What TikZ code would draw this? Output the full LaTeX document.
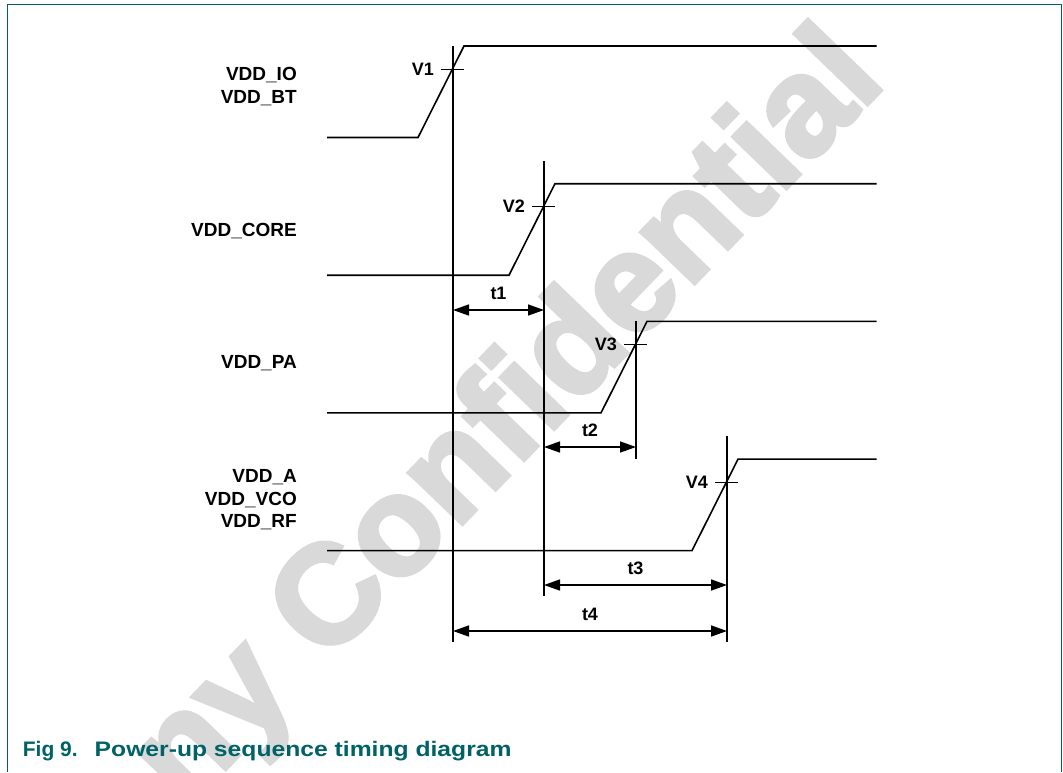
\documentclass[tikz,border=0pt]{standalone}
\usepackage{fontspec}
\setmainfont{Liberation Sans}
\newfontfamily\wmfont[RawFeature={embolden=3}]{Liberation Sans Bold}
\usepackage{graphicx}
\usepackage{xcolor}
\usetikzlibrary{arrows.meta}
\definecolor{frameteal}{RGB}{0,98,102}
\definecolor{wmgray}{RGB}{217,217,217}

\begin{document}
\begin{tikzpicture}[x=1pt,y=-1pt,
    wave/.style={line width=1.6pt},
    vline/.style={line width=1.5pt},
    vtick/.style={line width=1pt},
    dim/.style={line width=1.6pt,{Triangle[length=16pt,width=11pt]}-{Triangle[length=16pt,width=11pt]}},
    rail/.style={font=\fontsize{19}{22.7}\selectfont\bfseries,inner sep=0pt,align=right,anchor=north east},
    small/.style={font=\fontsize{18}{20}\selectfont\bfseries,inner sep=0pt}]
    \useasboundingbox (0,0) rectangle (1063,772);
    \node[rotate=46,anchor=base east,text=wmgray,inner sep=0pt,
          font=\fontsize{140}{140}\wmfont] (wm) at (888,83) {Company Confidential};
    \draw[frameteal,line width=1.5pt] (7.5,772) -- (7.5,4.5) -- (1061.5,4.5) -- (1061.5,772);

    \node[rail] (io) at (297,67) {VDD\_IO\\VDD\_BT};
    \node[rail] (core) at (297,223.3) {VDD\_CORE};
    \node[rail] (pa) at (297,355) {VDD\_PA};
    \node[rail] (ana) at (297,469.3) {VDD\_A\\VDD\_VCO\\VDD\_RF};

    \foreach \i/\vx/\hy in {1/453/46,2/544/183.7,3/636/321.4,4/727/459.1}{
        \coordinate (lo\i) at (327,\hy+91.5);
        \coordinate (up\i) at (\vx-35,\hy+91.5);
        \coordinate (top\i) at (\vx+11,\hy);
        \coordinate (hi\i) at (876.5,\hy);
        \draw[wave] (lo\i) -- (up\i) -- (top\i) -- (hi\i);
        \draw[vtick] (\vx-12,\hy+23) -- (\vx+11,\hy+23);
        \node[small,anchor=east] (v\i) at (\vx-19,\hy+23) {V\i};
    }

    \coordinate (m1t) at (453,46);     \coordinate (m1b) at (453,642);
    \coordinate (m2t) at (544,161);    \coordinate (m2b) at (544,596);
    \coordinate (m3t) at (636,321.4);  \coordinate (m3b) at (636,459);
    \coordinate (m4t) at (727,436);    \coordinate (m4b) at (727,642);
    \draw[vline] (m1t) -- (m1b);
    \draw[vline] (m2t) -- (m2b);
    \draw[vline] (m3t) -- (m3b);
    \draw[vline] (m4t) -- (m4b);

    \coordinate (t1l) at (453,310);   \coordinate (t1r) at (544,310);
    \coordinate (t2l) at (544,447);   \coordinate (t2r) at (636,447);
    \coordinate (t3l) at (544,585);   \coordinate (t3r) at (727,585);
    \coordinate (t4l) at (453,631);   \coordinate (t4r) at (727,631);
    \draw[dim] (t1l) -- (t1r) node[small,midway,above=10pt] (t1) {t1};
    \draw[dim] (t2l) -- (t2r) node[small,midway,above=10pt] (t2) {t2};
    \draw[dim] (t3l) -- (t3r) node[small,midway,above=10pt] (t3) {t3};
    \draw[dim] (t4l) -- (t4r) node[small,midway,above=10pt] (t4) {t4};

    \node[anchor=base west,text=frameteal,inner sep=0pt,font=\fontsize{21}{25}\selectfont\bfseries]
        (cap) at (22.7,756.7) {Fig 9.\hspace{17pt}\scalebox{1.175}[1]{Power-up sequence timing diagram}};
\end{tikzpicture}
\end{document}
